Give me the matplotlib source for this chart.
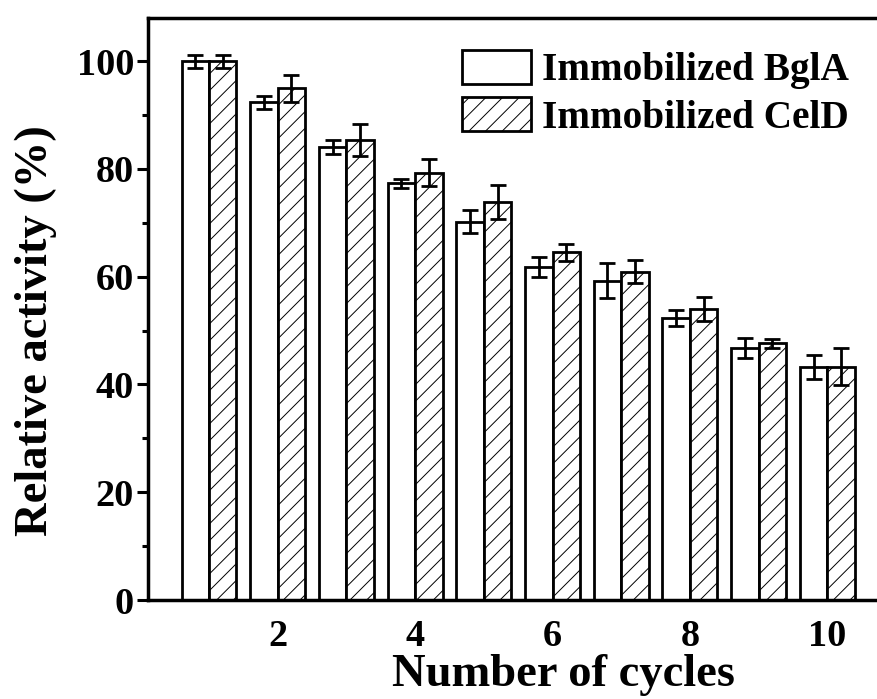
import numpy as np
import matplotlib
matplotlib.use("Agg")
import matplotlib.pyplot as plt
from matplotlib.ticker import MultipleLocator

plt.rcParams['font.family'] = ['Liberation Serif', 'DejaVu Serif']
plt.rcParams['font.weight'] = 'bold'
plt.rcParams['hatch.linewidth'] = 0.7

cycles = np.arange(1, 11)
bgla = [100.0, 92.4, 84.1, 77.3, 70.2, 61.8, 59.2, 52.4, 46.8, 43.3]
bgla_err = [1.2, 1.2, 1.3, 0.85, 2.1, 1.85, 3.25, 1.5, 1.8, 2.2]
celd = [100.0, 95.0, 85.3, 79.3, 73.9, 64.5, 60.9, 54.0, 47.6, 43.3]
celd_err = [1.2, 2.5, 3.0, 2.5, 3.15, 1.65, 2.15, 2.3, 0.85, 3.45]
xtick_vals = [2, 4, 6, 8, 10]

fig = plt.figure(figsize=(8.77, 6.99), dpi=100)
# right spine falls outside the picture, as in the cropped original
ax = fig.add_axes([148/877, 99/699, (896-148)/877, 582/699])

w = 0.4
ekw = dict(capsize=6, elinewidth=2, capthick=2, ecolor='black')
ax.bar(cycles - w/2, bgla, w, yerr=bgla_err, color='white', edgecolor='black',
       linewidth=2, error_kw=ekw, label='Immobilized BglA')
ax.bar(cycles + w/2, celd, w, yerr=celd_err, color='white', edgecolor='black',
       linewidth=2, hatch='//', error_kw=ekw, label='Immobilized CelD')

ax.set_xlim(0.112, 11)
ax.set_ylim(0, 108)
ax.set_xticks(xtick_vals)
ax.yaxis.set_major_locator(MultipleLocator(20))
ax.yaxis.set_minor_locator(MultipleLocator(10))
ax.tick_params(axis='x', length=0, labelsize=27.5, pad=14)
ax.tick_params(axis='y', which='major', length=8, width=2.2, labelsize=27.5, pad=2)
ax.tick_params(axis='y', which='minor', length=4.5, width=2.2)
for s in ax.spines.values():
    s.set_linewidth(2.5)

ax.set_xlabel('Number of cycles', fontsize=33.5, fontweight='bold', labelpad=0)
ax.set_ylabel('Relative activity (%)', fontsize=33.5, fontweight='bold', labelpad=14)
# original labels sit off-centre of the visible axes
ax.xaxis.label.set_x(0.556)
ax.yaxis.label.set_y(0.462)

ax.legend(loc='upper left', bbox_to_anchor=(462/877, 1 - 50/699),
          bbox_transform=fig.transFigure, frameon=False, fontsize=28.3,
          handlelength=1.75, handleheight=0.95, handletextpad=0.28,
          labelspacing=0.2, borderpad=0, borderaxespad=0)

fig.savefig('out.png', dpi=100)
